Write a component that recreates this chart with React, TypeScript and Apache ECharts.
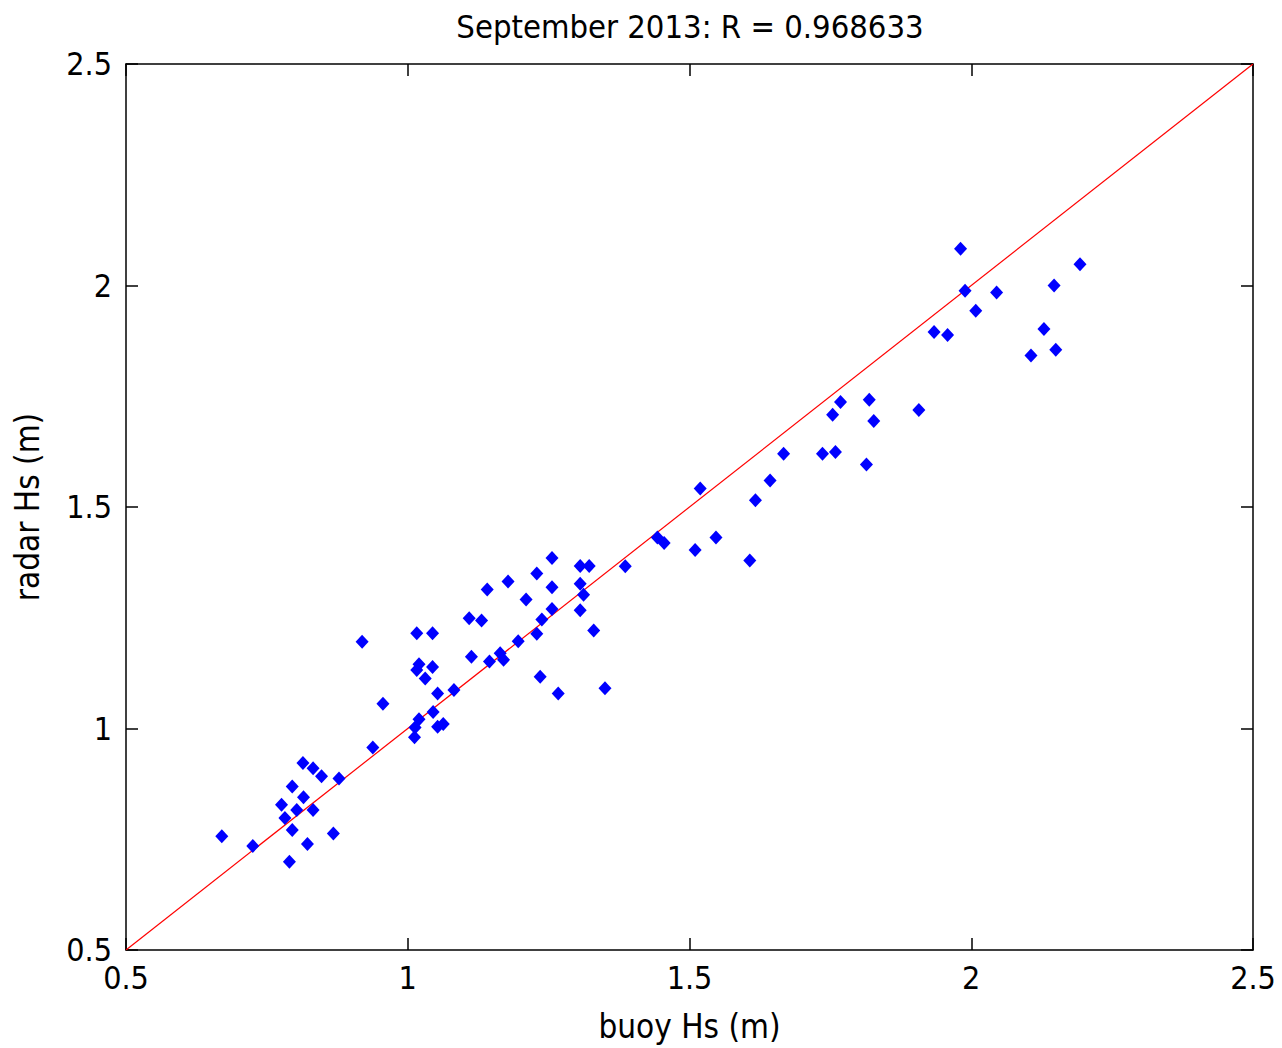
import React, { useEffect, useRef } from "react";
import * as echarts from "echarts";

const titleText = "September 2013: R = 0.968633";
const xName = "buoy Hs (m)";
const yName = "radar Hs (m)";
const axisMin = 0.5;
const axisMax = 2.5;
const tickInterval = 0.5;

const buoyHs = [
  0.670, 0.725, 0.790, 0.822, 0.868, 0.795, 0.782, 0.776, 0.803, 0.832, 0.815, 0.795, 0.814, 0.832, 0.847, 0.878,
  0.938, 0.956, 0.919, 1.016, 1.044, 1.020, 1.016, 1.044, 1.031, 1.053, 1.082, 1.045, 1.020, 1.013, 1.012, 1.053, 1.063,
  1.109, 1.131, 1.141, 1.178, 1.229, 1.256, 1.256, 1.210, 1.256, 1.238, 1.229, 1.196, 1.164, 1.170, 1.145, 1.113,
  1.235, 1.267, 1.350, 1.330, 1.306, 1.306, 1.312, 1.306, 1.322, 1.386,
  1.519, 1.443, 1.455, 1.510, 1.547, 1.607, 1.617, 1.643, 1.667, 1.736, 1.759, 1.814, 1.827,
  1.981, 1.989, 2.045, 2.008, 1.934, 1.958, 2.193, 2.147, 2.129, 2.106, 2.150, 1.768, 1.754, 1.819, 1.907,
];
const radarHs = [
  0.757, 0.735, 0.699, 0.739, 0.763, 0.771, 0.798, 0.828, 0.816, 0.816, 0.845, 0.869, 0.922, 0.910, 0.892, 0.887,
  0.957, 1.056, 1.196, 1.215, 1.215, 1.145, 1.132, 1.139, 1.113, 1.079, 1.087, 1.037, 1.021, 1.002, 0.980, 1.004, 1.010,
  1.249, 1.244, 1.314, 1.332, 1.350, 1.385, 1.319, 1.291, 1.270, 1.246, 1.214, 1.197, 1.170, 1.155, 1.151, 1.162,
  1.117, 1.079, 1.091, 1.221, 1.267, 1.327, 1.302, 1.367, 1.367, 1.366,
  1.542, 1.431, 1.419, 1.403, 1.431, 1.379, 1.515, 1.560, 1.620, 1.620, 1.624, 1.596, 1.694,
  2.083, 1.988, 1.984, 1.943, 1.895, 1.888, 2.048, 2.000, 1.902, 1.842, 1.855, 1.737, 1.708, 1.742, 1.719,
];
const refLineX = [0.5, 2.5];
const refLineY = [0.5, 2.5];

const FONT = "'DejaVu Sans Condensed', 'Liberation Sans', sans-serif";

export default function App() {
  const ref = useRef<HTMLDivElement>(null);
  useEffect(() => {
    if (!ref.current) return;
    const chart = echarts.init(ref.current, null, { renderer: "svg" });
    const labelStyle = { fontFamily: FONT, fontSize: 32, color: "#000" };
    const lineStyle = { color: "#000", width: 1.5 };
    const tick = { show: true, inside: true, length: 12, lineStyle: { color: "#000", width: 1.5 } };
    chart.setOption({
      animation: false,
      backgroundColor: "#fff",
      title: {
        text: titleText,
        left: 685,
        textAlign: "center",
        top: 5,
        textStyle: { fontFamily: FONT, fontSize: 32.5, fontWeight: "normal", color: "#000" },
      },
      grid: { left: 126, top: 64, right: 29, bottom: 97, containLabel: false },
      xAxis: [
        {
          type: "value",
          min: axisMin,
          max: axisMax,
          interval: tickInterval,
          position: "bottom",
          name: xName,
          nameLocation: "middle",
          nameGap: 60,
          nameTextStyle: { fontFamily: FONT, fontSize: 33, color: "#000" },
          axisLine: { show: true, lineStyle },
          axisTick: tick,
          axisLabel: { ...labelStyle, margin: 12 },
          splitLine: { show: false },
        },
        {
          type: "value",
          min: axisMin,
          max: axisMax,
          interval: tickInterval,
          position: "top",
          axisLine: { show: true, lineStyle },
          axisTick: tick,
          axisLabel: { show: false },
          splitLine: { show: false },
        },
      ],
      yAxis: [
        {
          type: "value",
          min: axisMin,
          max: axisMax,
          interval: tickInterval,
          position: "left",
          name: yName,
          nameLocation: "middle",
          nameGap: 82,
          nameRotate: 90,
          nameTextStyle: { fontFamily: FONT, fontSize: 33, color: "#000" },
          axisLine: { show: true, lineStyle },
          axisTick: tick,
          axisLabel: { ...labelStyle, margin: 14 },
          splitLine: { show: false },
        },
        {
          type: "value",
          min: axisMin,
          max: axisMax,
          interval: tickInterval,
          position: "right",
          axisLine: { show: true, lineStyle },
          axisTick: tick,
          axisLabel: { show: false },
          splitLine: { show: false },
        },
      ],
      series: [
        {
          type: "line",
          data: refLineX.map((x, i) => [x, refLineY[i]]),
          symbol: "none",
          lineStyle: { color: "#ff0000", width: 1.2 },
          z: 2,
        },
        {
          type: "scatter",
          data: buoyHs.map((x, i) => [x, radarHs[i]]),
          symbol: "diamond",
          symbolSize: [13, 14],
          itemStyle: { color: "#0000ff", opacity: 1 },
          z: 3,
        },
      ],
    });
    return () => chart.dispose();
  }, []);
  return (
    <div
      ref={ref}
      style={{ position: "absolute", left: 0, top: 0, width: 1282, height: 1048 }}
    />
  );
}
